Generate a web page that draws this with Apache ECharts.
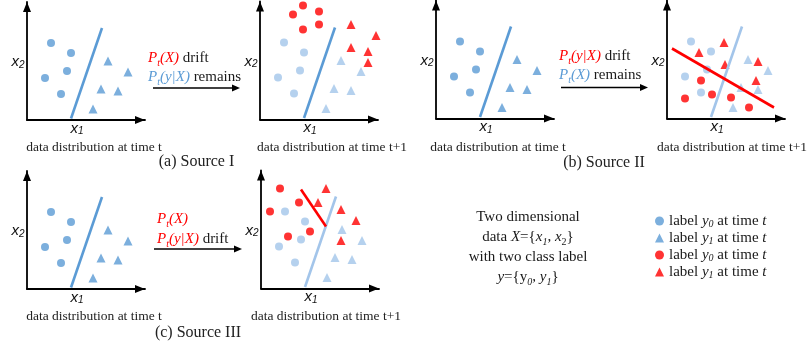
<!DOCTYPE html>
<html><head><meta charset="utf-8">
<script src="https://cdn.jsdelivr.net/npm/echarts@6/dist/echarts.min.js"></script>
<style>html,body{margin:0;padding:0;background:#fff}#main{width:810px;height:347px}</style>
</head><body><div id="main"></div>
<script>
// Samples at time t (reused, faded, in every t+1 panel)
const y0AtT = [[24,77],[44,67],[40,49],[18,42],[34,26]];
const y1AtT = [[81,59],[101,48],[74,31],[91,29],[66,11]];
const boundaryAtT = [[44,1.5],[75,92]];
// Source I: new samples appear in a region not seen before
const srcI_y0 = [[43,114],[33,105],[59,108],[43,90],[59,95]];
const srcI_y1 = [[91,95],[116,84],[91,72],[108,68],[108,57]];
// Source II: same inputs, labels change, new boundary
const srcII_y0 = [[34,38],[18,20],[45,24],[64,21],[82,11]];
const srcII_y1 = [[57,76],[32,66],[58,54],[91,57],[89,38]];
const srcII_boundary = [[5,70],[107,11]];
// Source III: new inputs and a partially new boundary
const srcIII_y0 = [[19,100],[9,77],[38,86],[27,52],[49,57]];
const srcIII_y1 = [[65,100],[57,86],[80,79],[95,68],[80,48]];
const srcIII_boundary = [[40,99],[65,62]];

const BLUE = '#5b9bd5', LIGHT = '#a3c5ea', RED = '#ff0000', INK = '#1a1a1a';
const SERIF = 'Liberation Serif', SANS = 'Liberation Sans';
const AX = 118; // axis extent, data units == px

// axis corner of every small panel
const panels = [
  {o:[27,120],   kind:'t'},
  {o:[260,119.5],kind:'I'},
  {o:[436,118.5],kind:'t'},
  {o:[667,118.5],kind:'II'},
  {o:[27,289],   kind:'t'},
  {o:[261,288.5],kind:'III'}
];

function rs(fill, italic, size, lh, va) {
  const s = {fill: fill, color: fill, fontFamily: SERIF, fontSize: size, fontStyle: italic ? 'italic' : 'normal', lineHeight: lh};
  if (va) s.verticalAlign = va;
  return s;
}
const rich = {
  n: rs(INK,false,15,20), i: rs(INK,true,15,20), s: rs(INK,true,10,10,'bottom'), sn: rs(INK,false,10,10,'bottom'),
  r: rs(RED,true,15,20), rs: rs(RED,true,10,10,'bottom'),
  b: rs(BLUE,true,15,20), bs: rs(BLUE,true,10,10,'bottom'),
  ax: {fill:'#111', fontFamily:SANS, fontStyle:'italic', fontSize:15, lineHeight:16},
  axs:{fill:'#111', fontFamily:SANS, fontStyle:'italic', fontSize:10, lineHeight:10, verticalAlign:'bottom'}
};

const grid = [], xAxis = [], yAxis = [], series = [], graphic = [];
const axisLine = {show:true, onZero:false, lineStyle:{color:'#000', width:1.8},
  symbol:['none','triangle'], symbolSize:[8,10], symbolOffset:[0,-5]};

function scatter(name, data, color, symbol, idx) {
  series.push({type:'scatter', name, data, xAxisIndex:idx, yAxisIndex:idx, clip:false,
    symbol, symbolSize: symbol === 'triangle' ? 9 : 8, itemStyle:{color}, silent:true, z:2});
}
function boundary(data, color, idx) {
  series.push({type:'line', data, xAxisIndex:idx, yAxisIndex:idx, symbol:'none', silent:true, z:3,
    lineStyle:{color, width:2.6}});
}
function text(x, y, str, opts) {
  graphic.push(Object.assign({type:'text', x, y, silent:true, style:Object.assign({
    text:str, rich, fill:INK, font:'15px "'+SERIF+'"', lineHeight:20, textAlign:'center', textVerticalAlign:'middle'}, opts||{})}));
}

panels.forEach((p, k) => {
  const [ox, oy] = p.o;
  grid.push({left:ox, top:oy-AX, width:AX, height:AX});
  xAxis.push({gridIndex:k, type:'value', min:0, max:AX, axisLine, axisTick:{show:false}, axisLabel:{show:false}, splitLine:{show:false}});
  yAxis.push({gridIndex:k, type:'value', min:0, max:AX, axisLine, axisTick:{show:false}, axisLabel:{show:false}, splitLine:{show:false}});
  if (p.kind === 't') {
    scatter('y0t', y0AtT, BLUE, 'circle', k);
    scatter('y1t', y1AtT, BLUE, 'triangle', k);
    boundary(boundaryAtT, BLUE, k);
  } else {
    scatter('prev0', y0AtT, LIGHT, 'circle', k);
    scatter('prev1', y1AtT, LIGHT, 'triangle', k);
    if (p.kind === 'I') {
      scatter('y0t1', srcI_y0, RED, 'circle', k);
      scatter('y1t1', srcI_y1, RED, 'triangle', k);
      boundary(boundaryAtT, BLUE, k);
    } else if (p.kind === 'II') {
      scatter('y0t1', srcII_y0, RED, 'circle', k);
      scatter('y1t1', srcII_y1, RED, 'triangle', k);
      boundary(boundaryAtT, LIGHT, k);
      boundary(srcII_boundary, RED, k);
    } else {
      scatter('y0t1', srcIII_y0, RED, 'circle', k);
      scatter('y1t1', srcIII_y1, RED, 'triangle', k);
      boundary(boundaryAtT, LIGHT, k);
      boundary(srcIII_boundary, RED, k);
    }
  }
  text(ox-9, oy-58, '{ax|x}{axs|2}');
  text(ox+50, oy+8.5, '{ax|x}{axs|1}');
});

// captions under the panels
const cap = {font:'13.5px "'+SERIF+'"', fill:'#222'};
text(94, 147.5, 'data distribution at time t', cap);
text(332, 147, 'data distribution at time t+1', cap);
text(498, 147, 'data distribution at time t', cap);
text(732, 147, 'data distribution at time t+1', cap);
text(94, 316.5, 'data distribution at time t', cap);
text(326, 316.5, 'data distribution at time t+1', cap);
const big = {font:'16px "'+SERIF+'"', fill:'#222'};
text(196.5, 162, '(a) Source I', big);
text(604, 162.5, '(b) Source II', big);
text(198, 333, '(c) Source III', big);

// transition arrows with their notes
function arrow(x1, x2, y) {
  graphic.push({type:'line', silent:true, shape:{x1, y1:y, x2:x2-6, y2:y}, style:{stroke:'#000', lineWidth:1.3}});
  graphic.push({type:'polygon', silent:true, shape:{points:[[x2,y],[x2-8,y-3.5],[x2-8,y+3.5]]}, style:{fill:'#000'}});
}
const left = {textAlign:'left'};
arrow(153, 240, 88);
text(148, 58, '{r|P}{rs|t}{r|(X)}{n| drift}', left);
text(148, 77, '{b|P}{bs|t}{b|(y|X)}{n| remains}', left);
arrow(561, 648, 87.5);
text(559, 56, '{r|P}{rs|t}{r|(y|X)}{n| drift}', left);
text(559, 75, '{b|P}{bs|t}{b|(X)}{n| remains}', left);
arrow(154, 242, 249);
text(157, 219, '{r|P}{rs|t}{r|(X)}', left);
text(157, 239, '{r|P}{rs|t}{r|(y|X)}{n| drift}', left);

// notation block
text(528, 247,
  '{n|Two dimensional}\n{n|data }{i|X}{n|={}{i|x}{s|1}{n|, }{i|x}{sn|2}}\n{n|with two class label}\n{i|y}{n|={y}{s|0}{n|, }{i|y}{s|1}}');

const legendNames = {
  y0t:  '{n|label }{i|y}{s|0}{n| at time }{i|t}',
  y1t:  '{n|label }{i|y}{s|1}{n| at time }{i|t}',
  y0t1: '{n|label }{i|y}{s|0}{n| at time }{i|t}',
  y1t1: '{n|label }{i|y}{s|1}{n| at time }{i|t}'
};
const legendRich = {
  n:{color:INK, fontFamily:SERIF, fontSize:15, lineHeight:16},
  i:{color:INK, fontFamily:SERIF, fontSize:15, fontStyle:'italic', lineHeight:16},
  s:{color:INK, fontFamily:SERIF, fontSize:10, fontStyle:'italic', lineHeight:10, verticalAlign:'bottom'}
};

const chart = echarts.init(document.getElementById('main'), null, {renderer:'canvas'});
chart.setOption({
  animation:false,
  backgroundColor:'#fff',
  grid, xAxis, yAxis, series, graphic,
  legend:{
    orient:'vertical', left:655, top:213.5, padding:0, itemGap:1.5, itemWidth:9, itemHeight:9,
    selectedMode:false,
    data:[{name:'y0t', icon:'circle'},{name:'y1t', icon:'triangle'},{name:'y0t1', icon:'circle'},{name:'y1t1', icon:'triangle'}],
    formatter: n => legendNames[n],
    textStyle:{rich:legendRich}
  }
});
</script></body></html>
